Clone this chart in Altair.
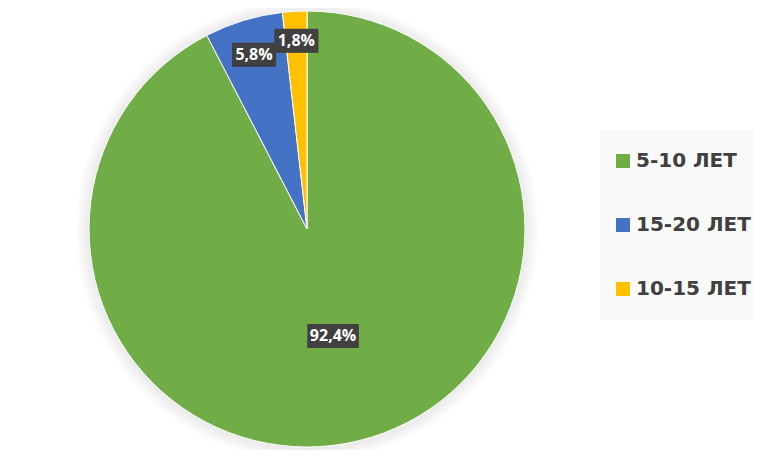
import altair as alt
import pandas as pd

categories = ["5-10 ЛЕТ", "15-20 ЛЕТ", "10-15 ЛЕТ"]
values = [92.4, 5.8, 1.8]
labels = ["92,4%", "5,8%", "1,8%"]
colors = ["#70AD47", "#4472C4", "#FFC000"]

df = pd.DataFrame({
    "cat": categories,
    "value": values,
    "label": labels,
    "idx": list(range(len(categories))),
})

CX, CY, R = 299, 221, 218

base = alt.Chart(df)

halo = alt.Chart(pd.DataFrame({"k": [0]})).mark_arc(
    outerRadius=R + 14,
    fill=alt.Gradient(
        gradient="radial",
        stops=[
            alt.GradientStop(color="#d6d6d6", offset=0.88),
            alt.GradientStop(color="#ffffff", offset=1),
        ],
        x1=0.5, y1=0.5, x2=0.5, y2=0.5, r1=0, r2=0.5,
    ),
).encode(
    theta=alt.value(0), theta2=alt.value(6.2832),
    x=alt.value(CX), y=alt.value(CY + 1),
)

pie = base.mark_arc(outerRadius=R, stroke="white", strokeWidth=1).encode(
    theta=alt.Theta("value:Q", stack=True),
    color=alt.Color(
        "cat:N",
        scale=alt.Scale(domain=categories, range=colors),
        legend=alt.Legend(
            orient="none", legendX=592, legendY=122, title=None,
            fillColor="#fafafa", padding=13,
            symbolType="square", symbolSize=196, symbolStrokeWidth=0,
            labelFont="DejaVu Sans", labelFontSize=20, labelFontWeight="bold",
            labelColor="#404040", clipHeight=36, rowPadding=28,
            labelOffset=3, labelLimit=220,
        ),
    ),
    order=alt.Order("idx:Q"),
    x=alt.value(CX), y=alt.value(CY),
)

lab = base.transform_joinaggregate(total="sum(value)").transform_window(
    cum="sum(value)", sort=[alt.SortField("idx")], frame=[None, 0]
).transform_calculate(
    ang="(datum.cum - datum.value/2)/datum.total*2*PI",
    rr=f"datum.value/datum.total > 0.5 ? {0.505*R} : (datum.value/datum.total > 0.03 ? {0.835*R} : {0.865*R})",
    lx=f"{CX} + datum.rr*sin(datum.ang)",
    ly=f"{CY} - datum.rr*cos(datum.ang)",
    hw="7 + 3.75*length(datum.label)",
    bx1="datum.lx - datum.hw",
    bx2="datum.lx + datum.hw",
    by1="datum.ly - 12",
    by2="datum.ly + 12",
)

shadow = lab.mark_rect(color="#000000", opacity=0.3, xOffset=2, yOffset=2).encode(
    x=alt.X("bx1:Q", scale=None, axis=None), x2="bx2:Q",
    y=alt.Y("by1:Q", scale=None, axis=None), y2="by2:Q",
)
box = lab.mark_rect(color="#404040").encode(
    x=alt.X("bx1:Q", scale=None, axis=None), x2="bx2:Q",
    y=alt.Y("by1:Q", scale=None, axis=None), y2="by2:Q",
)
txt = lab.mark_text(color="white", fontWeight="bold", fontSize=16, font="Open Sans").encode(
    x=alt.X("lx:Q", scale=None, axis=None),
    y=alt.Y("ly:Q", scale=None, axis=None),
    text="label:N",
)

chart = alt.layer(halo, pie, shadow, box, txt).properties(
    width=746, height=442,
    autosize=alt.AutoSizeParams(type="none"),
    padding=0, background="white",
).configure_view(stroke=None)

chart.save("out.html", embed_options={"renderer": "svg", "actions": False})
